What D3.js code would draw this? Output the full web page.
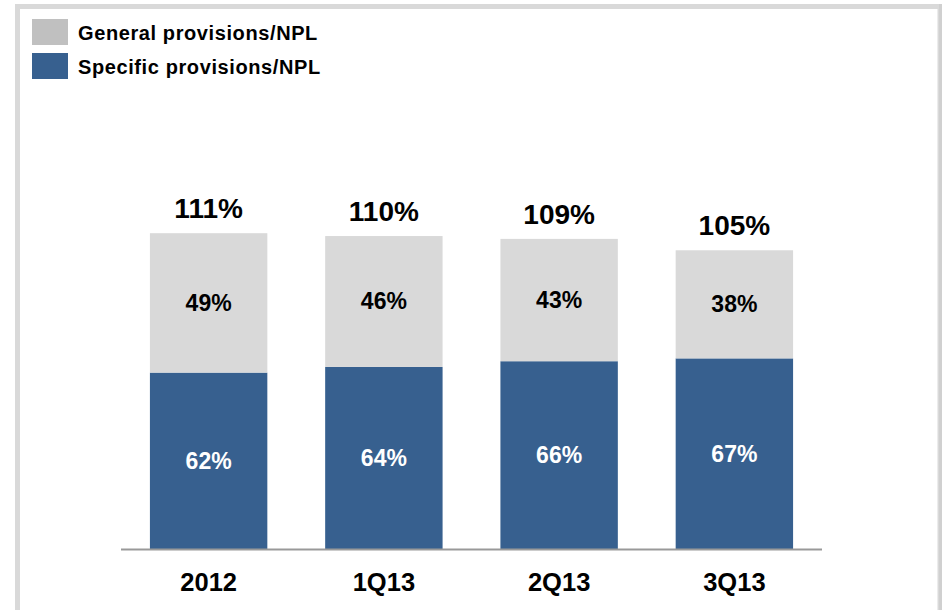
<!DOCTYPE html>
<html>
<head>
<meta charset="utf-8">
<script src="https://cdn.jsdelivr.net/npm/d3@7"></script>
<style>
  html, body { margin: 0; padding: 0; background: #fff; }
  svg { display: block; font-family: "Liberation Sans", Arial, Helvetica, sans-serif; font-weight: bold; }
</style>
</head>
<body>
<svg id="chart" width="942" height="610"></svg>
<script>
// Provision coverage of non-performing loans, by period
const periods = ["2012", "1Q13", "2Q13", "3Q13"];
const specific = [62, 64, 66, 67];
const general = [49, 46, 43, 38];
const totals = [111, 110, 109, 105];
const seriesNames = ["General provisions/NPL", "Specific provisions/NPL"];

const colors = { general: "#d9d9d9", specific: "#37608f", swatchGeneral: "#c0c0c0" };

const svg = d3.select("#chart");

// outer frame
svg.append("path")
  .attr("d", "M17.5,610 L17.5,6.5 L940,6.5 L940,610")
  .attr("fill", "none")
  .attr("stroke", "#d9d9d9")
  .attr("stroke-width", 5);
svg.append("line").attr("x1", 940.5).attr("x2", 940.5).attr("y1", 4).attr("y2", 610)
  .attr("stroke", "#d0d0d0").attr("stroke-width", 3);

const baseY = 549;
const x = d3.scaleBand().domain(periods).range([121, 822]).paddingInner(0.33).paddingOuter(0.165);
const y = d3.scaleLinear().domain([0, 100]).range([baseY, baseY - 284.5]);

const rows = periods.map((p, i) => ({ p, s: specific[i], g: general[i], t: totals[i] }));
const stack = d3.stack().keys(["s", "g"])(rows);
const fills = { s: colors.specific, g: colors.general };

svg.append("g").selectAll("g").data(stack).join("g")
  .attr("fill", d => fills[d.key])
  .selectAll("rect").data(d => d).join("rect")
  .attr("x", d => x(d.data.p))
  .attr("width", x.bandwidth())
  .attr("y", d => y(d[1]))
  .attr("height", d => y(d[0]) - y(d[1]));

// segment labels
stack.forEach(layer => {
  svg.append("g").selectAll("text").data(layer).join("text")
    .attr("x", d => x(d.data.p) + x.bandwidth() / 2)
    .attr("y", d => (y(d[0]) + y(d[1])) / 2 + 8)
    .attr("text-anchor", "middle")
    .attr("font-size", 23)
    .attr("fill", layer.key === "s" ? "#fff" : "#000")
    .text(d => (d[1] - d[0]) + "%");
});

// totals above bars
svg.append("g").selectAll("text").data(rows).join("text")
  .attr("x", d => x(d.p) + x.bandwidth() / 2)
  .attr("y", d => y(d.t) - 15)
  .attr("text-anchor", "middle")
  .attr("font-size", 28)
  .attr("fill", "#000")
  .text(d => d.t + "%");

// category axis
const axis = svg.append("g").attr("transform", `translate(0,${baseY})`)
  .call(d3.axisBottom(x).tickSize(0).tickPadding(24));
axis.select(".domain").attr("stroke", "#999").attr("stroke-width", 2).attr("d", "M121,0.5H822");
axis.selectAll("text")
  .attr("font-family", "'Liberation Sans', Arial, sans-serif")
  .attr("font-weight", "bold")
  .attr("font-size", 25.5)
  .attr("fill", "#000");

// legend
const legend = svg.append("g");
const legendColors = [colors.swatchGeneral, colors.specific];
seriesNames.forEach((name, i) => {
  const g = legend.append("g").attr("transform", `translate(32,${19 + i * 34})`);
  g.append("rect").attr("width", 36).attr("height", 26).attr("fill", legendColors[i]);
  g.append("text").attr("x", 46).attr("y", 20.5).attr("font-size", 20)
    .attr("letter-spacing", 0.6).attr("fill", "#000").text(name);
});
</script>
</body>
</html>
